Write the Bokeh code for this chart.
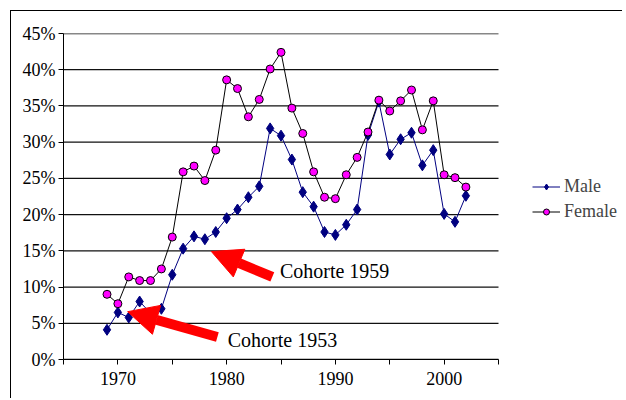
from bokeh.plotting import figure
from bokeh.models import (Range1d, FixedTicker, PrintfTickFormatter, Legend, LegendItem,
                          Arrow, NormalHead, Label)
from bokeh.embed import file_html
from bokeh.resources import INLINE

years = list(range(1969, 2003))
male = [4.1, 6.5, 5.8, 8.0, 6.4, 7.0, 11.7, 15.3, 17.0, 16.6, 17.6, 19.5, 20.7, 22.4,
        23.9, 31.9, 30.9, 27.6, 23.1, 21.1, 17.6, 17.2, 18.6, 20.7, 31.0, 35.6, 28.3,
        30.4, 31.3, 26.8, 28.9, 20.1, 19.0, 22.6]
female = [9.0, 7.7, 11.4, 10.9, 10.9, 12.5, 16.9, 25.9, 26.7, 24.7, 28.9, 38.6, 37.4,
          33.5, 35.9, 40.1, 42.4, 34.7, 31.2, 25.9, 22.4, 22.2, 25.5, 27.9, 31.4, 35.8,
          34.3, 35.7, 37.2, 31.7, 35.7, 25.5, 25.1, 23.8]

x_start, x_end = 1965, 2005
x_ticks = [1965, 1970, 1975, 1980, 1985, 1990, 1995, 2000, 2005]
x_labels = {1965: "", 1970: "1970", 1975: "", 1980: "1980", 1985: "", 1990: "1990",
            1995: "", 2000: "2000", 2005: ""}
y_ticks = [0, 5, 10, 15, 20, 25, 30, 35, 40, 45]

# annotations: (tail x, tail y, tip x, tip y), label position
arrow_1959 = (1984.2, 11.4, 1978.6, 14.9)
label_1959 = (1984.9, 12.2, "Cohorte 1959")
arrow_1953 = (1979.15, 3.1, 1970.9, 6.6)
label_1953 = (1980.1, 2.7, "Cohorte 1953")

FONT = "Liberation Serif"

W, H = 612, 388
LEFT, TOP, BOTTOM = 52, 22, 40
frame_w = W - LEFT
px_per_year = 435 / (x_end - x_start)
view_end = x_start + frame_w / px_per_year

p = figure(width=W, height=H, output_backend="svg", toolbar_location=None,
           x_range=Range1d(x_start, view_end), y_range=Range1d(0, 45),
           min_border_left=LEFT, min_border_right=0, min_border_top=TOP,
           min_border_bottom=BOTTOM)
p.styles = {"margin-left": "10px", "margin-top": "10px",
            "border-left": "1px solid black", "border-top": "1px solid black"}
p.outline_line_color = None
p.background_fill_color = "white"
p.border_fill_color = "white"

p.xgrid.grid_line_color = None
p.ygrid.grid_line_color = None
p.segment(x0=[x_start] * len(y_ticks), y0=y_ticks, x1=[x_end] * len(y_ticks), y1=y_ticks,
          line_color="#111111", line_width=1.3)

p.xaxis.ticker = FixedTicker(ticks=x_ticks)
p.xaxis.major_label_overrides = x_labels
p.xaxis.bounds = (x_start, x_end)
p.yaxis.ticker = FixedTicker(ticks=y_ticks)
p.yaxis.formatter = PrintfTickFormatter(format="%d%%")
for ax in (p.xaxis, p.yaxis):
    ax.axis_line_color = "black"
    ax.major_tick_line_color = "black"
    ax.major_tick_in = 0
    ax.major_tick_out = 5
    ax.minor_tick_line_color = None
    ax.major_label_text_font = FONT
    ax.major_label_text_font_size = "18px"
    ax.major_label_text_color = "black"
p.xaxis.major_label_standoff = 7
p.yaxis.major_label_standoff = 3

ml = p.line(years, male, line_color="#000080", line_width=1)
mm = p.scatter(years, male, marker="diamond", size=11, fill_color="#000080",
               line_color="#000080")
fl = p.line(years, female, line_color="black", line_width=1)
fm = p.scatter(years, female, marker="circle", size=8, fill_color="#FF00FF",
               line_color="black", line_width=1)

for (x0, y0, x1, y1) in (arrow_1959, arrow_1953):
    p.add_layout(Arrow(end=NormalHead(size=30, fill_color="red", line_color="red"),
                       x_start=x0, y_start=y0, x_end=x1, y_end=y1,
                       line_color="red", line_width=10))
for (lx, ly, txt) in (label_1959, label_1953):
    p.add_layout(Label(x=lx, y=ly, text=txt, text_font=FONT, text_font_size="20px",
                       text_baseline="middle", text_align="left", text_color="black"))

legend = Legend(items=[LegendItem(label="Male", renderers=[ml, mm]),
                       LegendItem(label="Female", renderers=[fl, fm])],
                location=(469, 137), padding=0, spacing=4, margin=0, glyph_width=28,
                glyph_height=15, label_height=15, label_standoff=4,
                label_text_font=FONT, label_text_font_size="18px",
                border_line_color=None, background_fill_alpha=0)
p.add_layout(legend)

open("out.html", "w").write(file_html(p, INLINE))
